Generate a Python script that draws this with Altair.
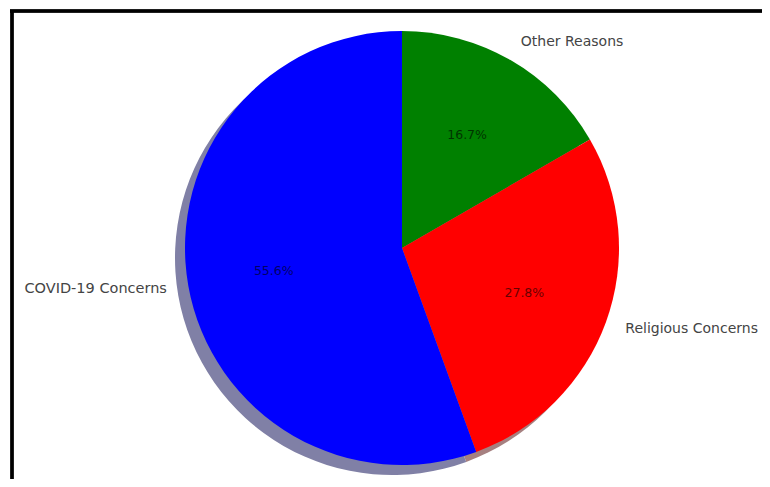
import altair as alt
import pandas as pd

# Data (clockwise from 12 o'clock, matching the reference's counter-clockwise matplotlib layout)
categories = ["Other Reasons", "Religious Concerns", "COVID-19 Concerns"]
counts = [3, 5, 10]
percent_labels = ["16.7%", "27.8%", "55.6%"]
slice_colors = ["#008000", "#ff0000", "#0000ff"]
shadow_colors = ["#809380", "#a68080", "#8080a6"]
label_side = ["right", "right", "left"]

W, H = 754, 471
CX, CY = 392, 238
R = 217

df = pd.DataFrame({
    "category": categories,
    "shadowcat": ["s_" + c for c in categories],
    "value": counts,
    "pct": percent_labels,
    "idx": list(range(len(categories))),
    "labelR": [c if s == "right" else "" for c, s in zip(categories, label_side)],
    "labelL": [c if s == "left" else "" for c, s in zip(categories, label_side)],
})

base = alt.Chart(df).encode(
    theta=alt.Theta("value:Q", stack=True),
    order=alt.Order("idx:Q"),
    x=alt.value(CX),
    y=alt.value(CY),
)

shadow = base.mark_arc(outerRadius=R, xOffset=-10, yOffset=10).encode(
    color=alt.Color("shadowcat:N", scale=alt.Scale(domain=["s_" + c for c in categories], range=shadow_colors), legend=None)
)

pie = base.mark_arc(outerRadius=R).encode(
    color=alt.Color("category:N", scale=alt.Scale(domain=categories, range=slice_colors), legend=None)
)

pct = base.mark_text(radius=R * 0.6, font="DejaVu Sans", fontSize=12.5, color="#000000", opacity=0.6,
                     align="center", baseline="middle").encode(text="pct:N")

lab_r = base.mark_text(radius=R * 1.095, font="DejaVu Sans", fontSize=14, color="#444444",
                       align="left", baseline="middle").encode(text="labelR:N")
lab_l = base.mark_text(radius=R * 1.1, font="DejaVu Sans", fontSize=14.5, color="#444444",
                       align="right", baseline="middle").encode(text="labelL:N")

frame_top = alt.Chart(df).mark_rule(color="black", strokeWidth=3).encode(
    x=alt.value(0), x2=alt.value(W), y=alt.value(1)
)
frame_left = alt.Chart(df).mark_rule(color="black", strokeWidth=3).encode(
    x=alt.value(2), y=alt.value(0), y2=alt.value(H)
)

chart = alt.layer(shadow, pie, pct, lab_r, lab_l, frame_top, frame_left).resolve_scale(
    color="independent"
).properties(
    width=W, height=H, padding=0,
    autosize=alt.AutoSizeParams(type="fit", contains="padding"),
).configure_view(stroke=None)

chart.save("out.html", embed_options={"renderer": "svg", "actions": False})
